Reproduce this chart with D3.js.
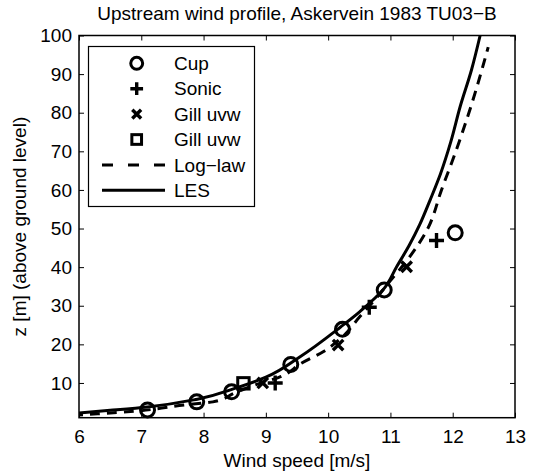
<!DOCTYPE html>
<html><head><meta charset="utf-8">
<script src="https://cdn.jsdelivr.net/npm/d3@7"></script>
<style>body{margin:0;background:#fff}svg{display:block}text{font-family:"Liberation Sans",Arial,sans-serif;fill:#000}</style>
</head><body><svg id="c" width="533" height="475"></svg>
<script>
const xTicks = [6,7,8,9,10,11,12,13];
const yTicks = [10,20,30,40,50,60,70,80,90,100];
const cupU = [7.1, 7.89, 8.45, 9.4, 10.23, 10.9, 12.04];
const cupZ = [3, 5.1, 7.7, 14.8, 23.9, 34.1, 48.9];
const sonicU = [9.15, 10.66, 11.74];
const sonicZ = [10, 29.6, 46.9];
const gillXU = [8.95, 10.16, 11.26];
const gillXZ = [10, 19.8, 40.1];
const gillSqU = [8.64];
const gillSqZ = [9.9];
const logU = [5.9, 6.3, 6.9, 7.7, 8.15, 8.5, 8.9, 9.2, 9.57, 9.92, 10.2, 10.51, 10.8, 11.0, 11.23, 11.6, 11.82, 12.05, 12.3, 12.57];
const logZ = [1.6, 2.0, 2.7, 4.3, 5.1, 7.4, 9.9, 11.4, 15.1, 18.1, 21.5, 27.2, 32.5, 36.5, 41, 50, 60, 70, 82, 97];
const lesU = [6.0, 6.5, 7.1, 7.9, 8.5, 9.0, 9.55, 10.2, 10.51, 10.9, 11.1, 11.3, 11.47, 11.64, 11.8, 11.97, 12.12, 12.3, 12.44];
const lesZ = [2.2, 2.9, 3.8, 5.8, 8.6, 11.5, 16.8, 24.5, 28.5, 34.5, 40.1, 45.6, 51, 57.5, 64, 72.5, 81.6, 91, 100];
const legendLabels = ["Cup","Sonic","Gill uvw","Gill uvw","Log\u2212law","LES"];
const titleText = "Upstream wind profile, Askervein 1983 TU03\u2212B";
const xLabel = "Wind speed [m/s]";
const yLabel = "z [m] (above ground level)";

const L=79, R=515, T=35.5, B=417.7;
const FS = 19;
const svg = d3.select("#c");
const x = d3.scaleLinear().domain([6,13]).range([L,R]);
const y = d3.scaleLinear().domain([1,100]).range([B,T]);

svg.append("defs").append("clipPath").attr("id","clip").append("rect")
  .attr("x",L).attr("y",T).attr("width",R-L).attr("height",B-T);

const tk = 5;
const gB = svg.append("g").attr("transform",`translate(0,${B})`)
  .call(d3.axisBottom(x).tickValues(xTicks).tickSizeInner(-tk).tickSizeOuter(0).tickPadding(12).tickFormat(d3.format("d")));
const gT = svg.append("g").attr("transform",`translate(0,${T})`)
  .call(d3.axisTop(x).tickValues(xTicks).tickSizeInner(-tk).tickSizeOuter(0).tickFormat(""));
const gL = svg.append("g").attr("transform",`translate(${L},0)`)
  .call(d3.axisLeft(y).tickValues(yTicks).tickSizeInner(-tk).tickSizeOuter(0).tickPadding(7).tickFormat(d3.format("d")));
const gR = svg.append("g").attr("transform",`translate(${R},0)`)
  .call(d3.axisRight(y).tickValues(yTicks).tickSizeInner(-tk).tickSizeOuter(0).tickFormat(""));
[gB,gT,gL,gR].forEach(g=>{
  g.select(".domain").remove();
  g.selectAll(".tick line").attr("stroke","#000").attr("stroke-width",1);
  g.selectAll("text").style("font-size",FS+"px").style("font-family",'"Liberation Sans",Arial,sans-serif').attr("fill","#000");
});
gB.selectAll("text").attr("dy","0.71em");
svg.append("rect").attr("x",L).attr("y",T).attr("width",R-L).attr("height",B-T)
  .attr("fill","none").attr("stroke","#000").attr("stroke-width",1.5);

const plot = svg.append("g").attr("clip-path","url(#clip)");
const line = d3.line().x(d=>x(d[0])).y(d=>y(d[1])).curve(d3.curveMonotoneY);
plot.append("path").datum(d3.zip(logU,logZ)).attr("d",line)
  .attr("fill","none").attr("stroke","#000").attr("stroke-width",3).attr("stroke-dasharray","10,7");
plot.append("path").datum(d3.zip(lesU,lesZ)).attr("d",line)
  .attr("fill","none").attr("stroke","#000").attr("stroke-width",3);

function marker(g, type, cx, cy, s){
  if(type==="o") g.append("circle").attr("cx",cx).attr("cy",cy).attr("r",7*s).attr("fill","none").attr("stroke","#000").attr("stroke-width",3);
  else if(type==="+") g.append("path").attr("d",`M${cx-7.5*s},${cy}H${cx+7.5*s}M${cx},${cy-7.5*s}V${cy+7.5*s}`).attr("stroke","#000").attr("stroke-width",3.4);
  else if(type==="x") { const a=5.2*s; g.append("path").attr("d",`M${cx-a},${cy-a}L${cx+a},${cy+a}M${cx-a},${cy+a}L${cx+a},${cy-a}`).attr("stroke","#000").attr("stroke-width",3.4); }
  else if(type==="s") g.append("rect").attr("x",cx-5.7*s).attr("y",cy-5.7*s).attr("width",11.4*s).attr("height",11.4*s).attr("fill","none").attr("stroke","#000").attr("stroke-width",3);
}
const mg = svg.append("g");
d3.zip(cupU,cupZ).forEach(d=>marker(mg,"o",x(d[0]),y(d[1]),1));
d3.zip(sonicU,sonicZ).forEach(d=>marker(mg,"+",x(d[0]),y(d[1]),1));
d3.zip(gillXU,gillXZ).forEach(d=>marker(mg,"x",x(d[0]),y(d[1]),1));
d3.zip(gillSqU,gillSqZ).forEach(d=>marker(mg,"s",x(d[0]),y(d[1]),1));

const lg = svg.append("g");
lg.append("rect").attr("x",88.5).attr("y",46.5).attr("width",166).attr("height",160)
  .attr("fill","#fff").attr("stroke","#000").attr("stroke-width",1.2);
const types = ["o","+","x","s","dash","solid"];
legendLabels.forEach((lab,i)=>{
  const cy = 63.3 + i*25.4;
  const t = types[i];
  if(t==="dash") lg.append("line").attr("x1",102).attr("x2",165).attr("y1",cy).attr("y2",cy).attr("stroke","#000").attr("stroke-width",3).attr("stroke-dasharray","11,15");
  else if(t==="solid") lg.append("line").attr("x1",102).attr("x2",165).attr("y1",cy).attr("y2",cy).attr("stroke","#000").attr("stroke-width",3);
  else marker(lg,t,136.7,cy,0.85);
  lg.append("text").attr("x",174).attr("y",cy).attr("dy","0.35em").style("font-size",FS+"px").text(lab);
});

svg.append("text").attr("x",(L+R)/2).attr("y",20).attr("text-anchor","middle").style("font-size",FS+"px").text(titleText);
svg.append("text").attr("x",(L+R)/2).attr("y",467).attr("text-anchor","middle").style("font-size",FS+"px").text(xLabel);
svg.append("text").attr("transform",`translate(26,${(T+B)/2}) rotate(-90)`).attr("text-anchor","middle").style("font-size",FS+"px").text(yLabel);
</script></body></html>
